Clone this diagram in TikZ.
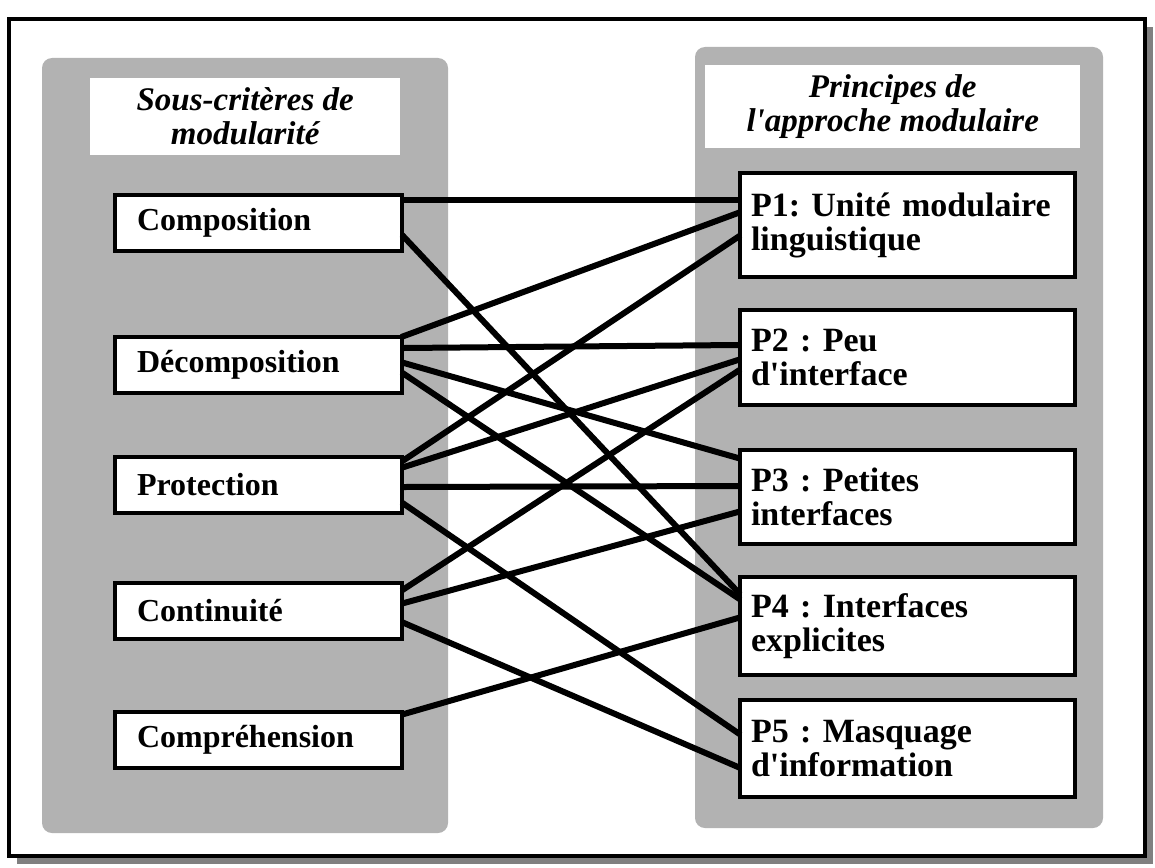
\documentclass[tikz,border=0pt]{standalone}
\usepackage{fontspec}
\setmainfont{Liberation Serif}
\usetikzlibrary{math}
\usetikzlibrary{positioning}

\begin{document}
\frenchspacing
\begin{tikzpicture}[x=1pt,y=-1pt]

\tikzmath{
	\LW = 287;
	\RW = 335;
}

\tikzset{
  panel/.style={fill=black!30, rounded corners=10pt},
  title/.style={fill=white, align=center, anchor=north west, inner sep=0pt,
    font=\fontsize{33}{34}\selectfont\bfseries\itshape},
  critbox/.style={draw, line width=4pt, fill=white, anchor=north west,
    minimum width=\LW, minimum height=56, text width=243pt,
    inner xsep=22pt, align=left,
    font=\fontsize{32}{36}\selectfont\bfseries},
  princbox/.style={draw, line width=4pt, fill=white, anchor=north west,
    minimum width=\RW, minimum height=#1, text width=313pt,
    inner xsep=11pt, align=left,
    font=\fontsize{34}{34}\selectfont\bfseries},
  link/.style={line width=6pt, shorten >=-3pt, shorten <=-3pt}
}

\useasboundingbox (0,0) rectangle (1155,867);

\fill[black!50] (17,27) rectangle (1153,864);
\draw[line width=4pt, fill=white] (9,19) rectangle (1145,856);

\fill[panel] (42,58) rectangle (448,833);
\fill[panel] (695,47) rectangle (1103,828);

\node[title, minimum width=310, minimum height=77] (lt) at (90,78) {Sous-critères de\\modularité};
\node[title, minimum width=375, minimum height=83] (rt) at (705,65) {Principes de\\l\textquotesingle approche modulaire};

\node[critbox] (comp) at (113,193) {Composition};
\node[critbox] (decomp) at (113,335) {Décomposition};
\node[critbox] (prot) at (113,455) {Protection};
\node[critbox] (cont) at (113,581) {Continuité};
\node[critbox] (compr) at (113,710) {Compréhension};

\node[princbox=104] (p1) at (738,171) {P1: Unité modulaire\\linguistique};
\node[princbox=95] (p2) at (738,308) {P2 : Peu\\d\textquotesingle interface};
\node[princbox=94] (p3) at (738,448) {P3 : Petites\\interfaces};
\node[princbox=98] (p4) at (738,575) {P4 : Interfaces\\explicites};
\node[princbox=97] (p5) at (738,698) {P5 : Masquage\\d\textquotesingle information};

\draw[link] ([yshift=23pt]comp.east) -- ([yshift=25pt]p1.west);
\draw[link] ([yshift=-14pt]comp.east) -- ([yshift=34pt]p4.west);
\draw[link] ([yshift=29pt]decomp.east) -- ([yshift=12pt]p1.west);
\draw[link] ([yshift=17pt]decomp.east) -- ([yshift=12.5pt]p2.west);
\draw[link] ([yshift=2pt]decomp.east) -- ([yshift=39pt]p3.west);
\draw[link] ([yshift=-9pt]decomp.east) -- ([yshift=28pt]p4.west);
\draw[link] ([yshift=25pt]prot.east) -- ([yshift=-12pt]p1.west);
\draw[link] ([yshift=18pt]prot.east) -- ([yshift=-2.5pt]p2.west);
\draw[link] ([yshift=-2pt]prot.east) -- ([yshift=11pt]p3.west);
\draw[link] ([yshift=-19pt]prot.east) -- ([yshift=15.5pt]p5.west);
\draw[link] ([yshift=22pt]cont.east) -- ([yshift=-13.5pt]p2.west);
\draw[link] ([yshift=8pt]cont.east) -- ([yshift=-15pt]p3.west);
\draw[link] ([yshift=-12pt]cont.east) -- ([yshift=-18.5pt]p5.west);
\draw[link] ([yshift=26pt]compr.east) -- ([yshift=8pt]p4.west);

\end{tikzpicture}
\end{document}
